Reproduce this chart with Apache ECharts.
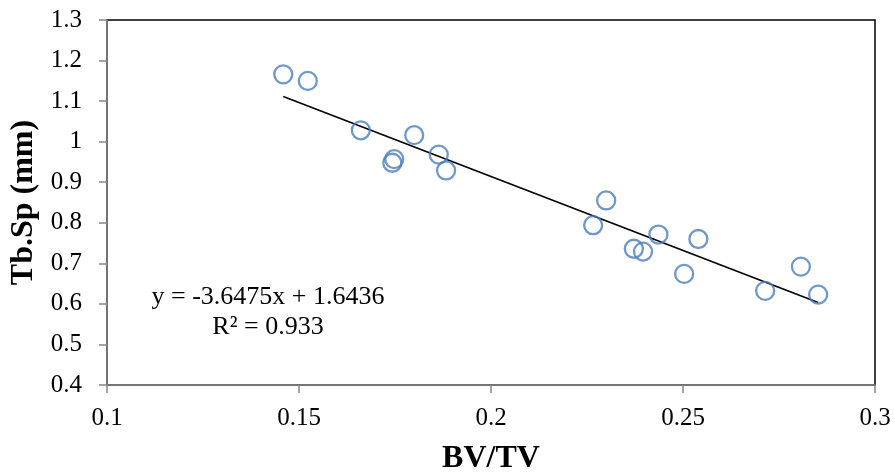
<!DOCTYPE html>
<html>
<head>
<meta charset="utf-8">
<script src="https://cdn.jsdelivr.net/npm/echarts@6/dist/echarts.min.js"></script>
<style>html,body{margin:0;padding:0;background:#fff;}#c{width:895px;height:475px;}</style>
</head>
<body>
<div id="c"></div>
<script>
// Data
var bvtv = [0.1459, 0.1523, 0.1661, 0.1800, 0.1743, 0.1748, 0.1864, 0.1883, 0.2300, 0.2266, 0.2372, 0.2396, 0.2436, 0.2540, 0.2503, 0.2714, 0.2807, 0.2852];
var tbsp = [1.166, 1.150, 1.028, 1.016, 0.948, 0.957, 0.968, 0.929, 0.855, 0.794, 0.736, 0.729, 0.771, 0.760, 0.674, 0.632, 0.692, 0.623];
var trendX = [0.1459, 0.2852];
var trendY = [1.1114, 0.6033];
var xTicks = [0.1, 0.15, 0.2, 0.25, 0.3];
var yTicks = [0.4, 0.5, 0.6, 0.7, 0.8, 0.9, 1, 1.1, 1.2, 1.3];
var eqLines = ['y = -3.6475x + 1.6436', 'R\u00B2 = 0.933'];
var xTitle = 'BV/TV';
var yTitle = 'Tb.Sp (mm)';

var FONT = '"Liberation Serif", "Times New Roman", serif';
var pts = bvtv.map(function (x, i) { return [x, tbsp[i]]; });
var trend = trendX.map(function (x, i) { return [x, trendY[i]]; });

var chart = echarts.init(document.getElementById('c'), null, { renderer: 'canvas' });
chart.setOption({
  animation: false,
  backgroundColor: '#fff',
  grid: { left: 107, top: 20, right: 20, bottom: 90, outerBoundsMode: 'none', containLabel: false, show: true, borderColor: '#000', borderWidth: 1.5, backgroundColor: 'transparent' },
  xAxis: {
    type: 'value', min: xTicks[0], max: xTicks[xTicks.length - 1], interval: 0.05,
    name: xTitle, nameLocation: 'middle', nameGap: 58,
    nameTextStyle: { fontFamily: FONT, fontSize: 32, fontWeight: 'bold', color: '#000' },
    axisLine: { show: true, onZero: false, lineStyle: { color: '#868686', width: 1.5 } },
    axisTick: { show: true, inside: false, length: 8, lineStyle: { color: '#868686', width: 1.5 } },
    axisLabel: { fontFamily: FONT, fontSize: 25, color: '#000', margin: 21 },
    splitLine: { show: false }
  },
  yAxis: {
    type: 'value', min: yTicks[0], max: yTicks[yTicks.length - 1], interval: 0.1,
    name: yTitle, nameLocation: 'middle', nameGap: 66, nameRotate: 90,
    nameTextStyle: { fontFamily: FONT, fontSize: 32, fontWeight: 'bold', color: '#000' },
    axisLine: { show: true, onZero: false, lineStyle: { color: '#868686', width: 1.5 } },
    axisTick: { show: true, inside: false, length: 8, lineStyle: { color: '#868686', width: 1.5 } },
    axisLabel: { fontFamily: FONT, fontSize: 25, color: '#000', margin: 25 },
    splitLine: { show: false }
  },
  series: [
    {
      type: 'line', data: trend, showSymbol: false, symbol: 'none',
      lineStyle: { color: '#000', width: 1.6 }, z: 2, silent: true
    },
    {
      type: 'scatter', data: pts, symbol: 'circle', symbolSize: 18,
      itemStyle: { color: 'rgba(255,255,255,0)', borderColor: '#4A7EBB', borderWidth: 2.3 }, z: 3
    }
  ],
  graphic: [
    { type: 'text', x: 268, y: 297, style: { text: eqLines[0], fontFamily: FONT, fontSize: 26, fill: '#000', textAlign: 'center', textVerticalAlign: 'middle' } },
    { type: 'text', x: 268, y: 327, style: { text: eqLines[1], fontFamily: FONT, fontSize: 26, fill: '#000', textAlign: 'center', textVerticalAlign: 'middle' } }
  ]
});
</script>
</body>
</html>
